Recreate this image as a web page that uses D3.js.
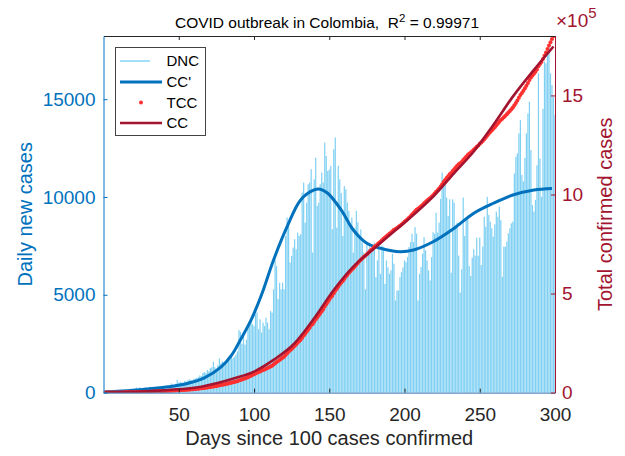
<!DOCTYPE html>
<html>
<head>
<meta charset="utf-8">
<script src="https://cdn.jsdelivr.net/npm/d3@7"></script>
<style>
body { margin: 0; background: #fff; }
text { font-family: "Liberation Sans", Arial, sans-serif; }
</style>
</head>
<body>
<svg class="chart" width="625" height="456"></svg>
<script>
// daily new cases, day 1..300
var dnc = [
  20, 30, 50, 65, 40, 90, 70, 100, 60, 80, 110, 95, 130, 150, 100, 140, 170, 120, 200, 180,
  230, 260, 200, 270, 240, 210, 250, 280, 220, 270, 300, 260, 240, 290, 270, 300, 320, 280, 260, 310, 340, 300, 330, 360,
  470, 400, 380, 450, 650, 500, 560, 520, 510, 600, 560, 620, 680, 650, 600, 700,
  720, 750, 800, 880, 850, 1000, 1050, 1000, 1150, 1100,
  1250, 1300, 1580, 1300, 1150, 1400, 1750, 1500, 1600, 1400,
  1550, 1700, 1830, 1900, 2000, 1750, 1830, 1950, 2100, 3200,
  3100, 2500, 2850, 2450, 2700, 3300, 3540, 3800, 3500,
  3400, 4000, 4100, 3240, 3750, 3070, 3580, 3400, 3830, 3580, 3240, 4170, 4090,
  5280, 6800, 6470, 4770, 5620, 5280, 5620, 5280, 8000, 8950, 8520, 6650, 6990, 7410, 7840, 7330, 8180, 8010, 8090,
  10220, 10740, 8690, 9710, 10650, 10740, 11420, 7160, 10900, 12010, 9540, 9710, 10650, 11250, 10740, 12780, 12100, 11330, 11400,
  11590, 8350, 12440, 13040, 8430, 11590, 10900, 10200, 8010, 10560,
  10390, 9710, 9290, 8520, 8950, 7160, 8430, 9290, 8700, 8010,
  8350, 7670, 7160, 5280, 7670, 7330, 7500, 7160, 7400, 7670,
  5900, 6760, 7440, 6070, 7520, 7440, 5560, 6760, 6400, 6070,
  6250, 7100, 6590, 4710, 5220, 5220, 5900, 6160, 6400, 6760,
  6670, 6930, 7440, 7690, 8120, 7690, 8460, 8120, 4710, 6070,
  6420, 7100, 7950, 7270, 6760, 6250, 5730, 6930, 8200, 8120,
  9200, 8180, 8690, 9900, 11250, 10900, 10740, 9970, 9030, 9880,
  6130, 9880, 9710, 8430, 8690, 7000, 5110, 6300, 9970, 8010,
  8950, 8860, 6470, 5960, 6900, 7330, 7000, 7920, 6990, 7920,
  6520, 7460, 8990, 8480, 10010, 9080, 8740, 8400, 7970, 8600,
  9250, 8990, 9510, 8820, 5920, 7460, 7460, 7720, 8140, 8400,
  8650, 8740, 11200, 12060, 12230, 13250, 13930, 11130, 10790, 12000,
  13250, 14270, 14870, 12400, 9590, 9250, 9850, 11620, 16320, 11970,
  10010, 14500, 16920, 16830, 17430, 17770, 16320, 15720, 15130, 14190
];
var days = d3.range(1, dnc.length + 1);
var startCases = 100;

// fitted curves, read at sample days
var fitDays = [1, 20, 43, 55, 67, 78, 85, 91, 98, 105, 113, 122, 131, 140, 144, 149, 158, 166, 175, 184, 197, 206, 219, 233, 246, 259, 272, 286, 298];
var ccPrime = [40, 120, 300, 450, 750, 1300, 1900, 2700, 3700, 5000, 6780, 8480, 9850, 10360, 10400, 10190, 9330, 8310, 7630, 7380, 7200, 7290, 7710, 8400, 9170, 9680, 10100, 10360, 10440];
var ccDays = [1, 43, 65, 87, 100, 113, 127, 140, 153, 166, 180, 193, 206, 219, 233, 246, 259, 272, 286, 299];
var cc = [300, 13000, 30000, 72000, 106000, 165000, 249000, 375000, 518000, 636000, 729000, 813000, 897000, 989000, 1108000, 1217000, 1351000, 1494000, 1629000, 1747000];

var xTicks = [50, 100, 150, 200, 250, 300];
var leftTicks = [0, 5000, 10000, 15000];
var rightTicks = [0, 500000, 1000000, 1500000];

var tcc = Array.from(d3.cumsum(dnc), function (v) { return v + startCases; });

var blue = '#0072BD', red = '#A2142F', ink = '#262626';
var svg = d3.select('svg.chart');
var L = 103.5, R = 555, T = 36, B = 392.6;

var x = d3.scaleLinear().domain([0, 300]).range([L, R]);
var yL = d3.scaleLinear().domain([0, 18230]).range([B, T]);
var yR = d3.scaleLinear().domain([0, 1800000]).range([B, T]);

svg.append('clipPath').attr('id', 'plot')
  .append('rect').attr('x', L).attr('y', T).attr('width', R - L).attr('height', B - T);

var plot = svg.append('g').attr('clip-path', 'url(#plot)');

var bw = (x(2) - x(1)) * 0.8;
plot.selectAll('rect.bar')
  .data(dnc)
  .enter()
  .append('rect')
  .attr('class', 'bar')
  .attr('x', function (d, i) { return x(days[i]) - bw / 2; })
  .attr('y', function (d) { return yL(d); })
  .attr('width', bw)
  .attr('height', function (d) { return B - yL(d); })
  .attr('fill', '#4DBEEE')
  .attr('fill-opacity', 0.72);

var primeLine = d3.line()
  .x(function (d, i) { return x(fitDays[i]); })
  .y(function (d) { return yL(d); })
  .curve(d3.curveCatmullRom);
plot.append('path').datum(ccPrime)
  .attr('d', primeLine)
  .attr('fill', 'none').attr('stroke', blue).attr('stroke-width', 3);

plot.selectAll('circle.tcc')
  .data(tcc)
  .enter()
  .append('circle')
  .attr('class', 'tcc')
  .attr('cx', function (d, i) { return x(days[i]); })
  .attr('cy', function (d) { return yR(d); })
  .attr('r', 2)
  .attr('fill', '#ff3030');

var ccLine = d3.line()
  .x(function (d, i) { return x(ccDays[i]); })
  .y(function (d) { return yR(d); })
  .curve(d3.curveMonotoneX);
plot.append('path').datum(cc)
  .attr('d', ccLine)
  .attr('fill', 'none').attr('stroke', red).attr('stroke-width', 2.6);

// axes
var xAxis = svg.append('g')
  .attr('transform', 'translate(0,' + B + ')')
  .call(d3.axisBottom(x).tickValues(xTicks).tickSizeInner(-4).tickSizeOuter(0).tickPadding(15));
var xTop = svg.append('g')
  .attr('transform', 'translate(0,' + T + ')')
  .call(d3.axisTop(x).tickValues(xTicks).tickSizeInner(-4).tickSizeOuter(0).tickFormat(''));
var leftAxis = svg.append('g')
  .attr('transform', 'translate(' + L + ',0)')
  .call(d3.axisLeft(yL).tickValues(leftTicks).tickSizeInner(-4).tickSizeOuter(0).tickPadding(8).tickFormat(d3.format('d')));
var rightAxis = svg.append('g')
  .attr('transform', 'translate(' + R + ',0)')
  .call(d3.axisRight(yR).tickValues(rightTicks).tickSizeInner(-4).tickSizeOuter(0).tickPadding(7)
    .tickFormat(function (d) { return d / 100000; }));

[xAxis, xTop].forEach(function (g) {
  g.select('.domain').attr('stroke', ink);
  g.selectAll('.tick line').attr('stroke', ink);
  g.selectAll('text').attr('fill', ink).style('font-size', '19px');
});
xAxis.select('.domain').attr('stroke', '#2a6fae');
leftAxis.selectAll('.domain, .tick line').attr('stroke', blue);
leftAxis.selectAll('text').attr('fill', blue).style('font-size', '19px');
rightAxis.selectAll('.domain, .tick line').attr('stroke', red);
rightAxis.selectAll('text').attr('fill', red).style('font-size', '19px');
svg.selectAll('.tick text').attr('font-family', null);

// labels
svg.append('text')
  .attr('x', (L + R) / 2).attr('y', 445)
  .attr('text-anchor', 'middle').attr('fill', ink).style('font-size', '20px')
  .text('Days since 100 cases confirmed');
svg.append('text')
  .attr('transform', 'translate(32,' + (T + B) / 2 + ') rotate(-90)')
  .attr('text-anchor', 'middle').attr('fill', blue).style('font-size', '20px')
  .text('Daily new cases');
svg.append('text')
  .attr('transform', 'translate(611.5,' + (T + B) / 2 + ') rotate(-90)')
  .attr('text-anchor', 'middle').attr('fill', red).style('font-size', '20px')
  .text('Total confirmed cases');

var title = svg.append('text')
  .attr('x', 327).attr('y', 28)
  .attr('text-anchor', 'middle').attr('fill', '#000').style('font-size', '15.5px');
title.append('tspan').text('COVID outbreak in Colombia,\u00a0\u00a0R');
title.append('tspan').attr('dy', -6).style('font-size', '11.5px').text('2');
title.append('tspan').attr('dy', 6).text(' = 0.99971');

var expo = svg.append('text').attr('x', 556).attr('y', 27).attr('fill', red).style('font-size', '19px');
expo.append('tspan').text('\u00d710');
expo.append('tspan').attr('dy', -9).style('font-size', '15px').text('5');

// legend
var lg = svg.append('g');
lg.append('rect').attr('x', 115.5).attr('y', 47.5).attr('width', 90).attr('height', 88)
  .attr('fill', '#fff').attr('stroke', '#444').attr('stroke-width', 1);
var rows = [61, 82, 102.5, 123];
var names = ['DNC', "CC'", 'TCC', 'CC'];
lg.append('line').attr('x1', 120).attr('x2', 150).attr('y1', rows[0]).attr('y2', rows[0])
  .attr('stroke', '#4DBEEE').attr('stroke-opacity', 0.85).attr('stroke-width', 1.2);
lg.append('line').attr('x1', 120).attr('x2', 162).attr('y1', rows[1]).attr('y2', rows[1])
  .attr('stroke', blue).attr('stroke-width', 3);
lg.append('circle').attr('cx', 141).attr('cy', rows[2]).attr('r', 2).attr('fill', '#ff3030');
lg.append('line').attr('x1', 120).attr('x2', 162).attr('y1', rows[3]).attr('y2', rows[3])
  .attr('stroke', red).attr('stroke-width', 2.6);
lg.selectAll('text.lab')
  .data(names)
  .enter()
  .append('text')
  .attr('class', 'lab')
  .attr('x', 166.5)
  .attr('y', function (d, i) { return rows[i]; })
  .attr('dy', '0.36em')
  .attr('fill', '#000')
  .style('font-size', '15px')
  .text(function (d) { return d; });
</script>
</body>
</html>
